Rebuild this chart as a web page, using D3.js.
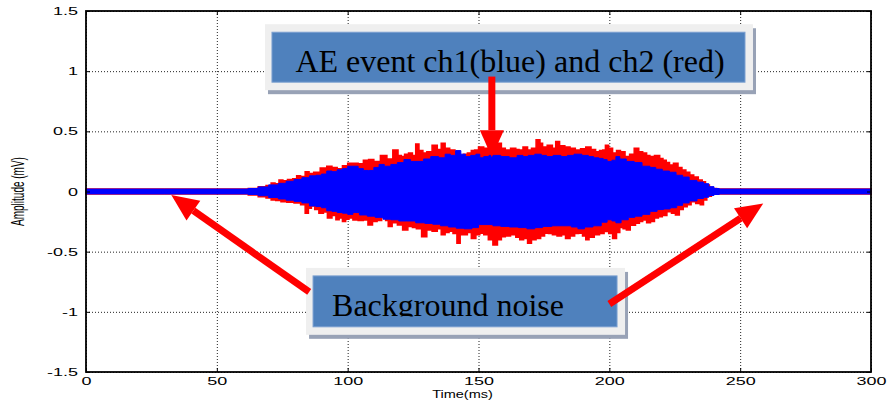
<!DOCTYPE html>
<html>
<head>
<meta charset="utf-8">
<script src="https://cdn.jsdelivr.net/npm/d3@7"></script>
<style>
  html, body { margin: 0; padding: 0; background: #fff; }
  svg { display: block; }
  .grid line { stroke: #222; stroke-dasharray: 1,2; stroke-width: 1; }
  .grid path { display: none; }
  .axis path { display: none; }
  .axis line { stroke: #000; stroke-width: 1; }
  .axis text { font-family: "Liberation Sans", Arial, sans-serif; font-size: 10px; fill: #000; }
  .note text { font-family: "Liberation Serif", "Times New Roman", serif; font-size: 32px; fill: #000; }
</style>
</head>
<body>
<div id="chart"></div>
<script>
// tick labels
var xTicks = [0, 50, 100, 150, 200, 250, 300];
var yTicks = [-1.5, -1, -0.5, 0, 0.5, 1, 1.5];

// envelope of ch2 (red): [time ms, amplitude mV]
var redUpper = [[0,0.02],[60,0.02],[64,0.025],[67.6,0.04],[70,0.05],[71.5,0.07],[73,0.065],[74.5,0.095],[76,0.09],[78,0.1],[80,0.105],[81,0.13],[83,0.125],[84.5,0.165],[86,0.15],[88,0.16],[91,0.195],[93,0.21],[95,0.2],[97,0.19],[99,0.215],[101,0.235],[103,0.235],[105,0.23],[107,0.26],[109,0.265],[111,0.25],[114,0.3],[116,0.27],[118.5,0.345],[120,0.3],[121,0.29],[122.5,0.31],[124,0.32],[125.5,0.3],[126.5,0.394],[128,0.34],[129.5,0.32],[131,0.33],[133.5,0.385],[135,0.35],[136.5,0.4],[138,0.36],[140,0.345],[142,0.33],[143.5,0.3],[145,0.31],[146.5,0.32],[148,0.34],[149,0.345],[151,0.37],[153,0.36],[154.5,0.38],[156,0.4],[158,0.4],[159.5,0.36],[161,0.345],[163.5,0.36],[165,0.35],[166,0.345],[168,0.37],[169.5,0.345],[171,0.36],[173,0.43],[174,0.4],[175,0.37],[177.5,0.385],[179,0.36],[180,0.415],[182,0.38],[184,0.37],[186,0.36],[188,0.345],[190,0.355],[192,0.37],[194,0.35],[195.5,0.33],[197,0.34],[198,0.345],[199,0.385],[200.5,0.36],[202,0.32],[203.5,0.34],[205,0.33],[207,0.29],[208.5,0.31],[210.5,0.36],[212,0.33],[213.5,0.32],[215,0.3],[216,0.29],[218.5,0.3],[220,0.275],[221,0.26],[222.5,0.24],[223.5,0.22],[225.5,0.235],[227,0.2],[228.5,0.178],[230,0.16],[231.5,0.137],[233,0.12],[235,0.095],[236,0.08],[237.5,0.054],[239,0.035],[240,0.025],[242,0.02],[300,0.02]];
var redLower = [[0,-0.02],[60,-0.02],[64,-0.03],[67.6,-0.043],[70,-0.055],[71.5,-0.07],[73.5,-0.075],[75.5,-0.085],[78,-0.09],[81,-0.095],[83,-0.11],[84.5,-0.18],[85.5,-0.14],[86.8,-0.12],[88,-0.15],[90,-0.18],[91.5,-0.17],[93,-0.22],[95,-0.2],[96,-0.235],[97.5,-0.22],[98.5,-0.25],[100,-0.23],[101,-0.22],[103,-0.237],[105,-0.24],[107,-0.237],[108.5,-0.278],[110.5,-0.25],[112,-0.24],[114,-0.21],[115,-0.24],[116,-0.29],[118,-0.26],[120,-0.278],[122,-0.32],[124,-0.29],[125.5,-0.3],[127,-0.31],[129.5,-0.375],[131,-0.32],[133.5,-0.33],[135,-0.31],[136.5,-0.36],[138,-0.34],[139.5,-0.33],[141,-0.35],[142.5,-0.43],[143.5,-0.36],[145,-0.36],[146.5,-0.34],[148,-0.39],[150,-0.36],[151,-0.347],[153,-0.36],[154.5,-0.4],[156.5,-0.444],[158,-0.4],[159.5,-0.375],[161,-0.37],[163.5,-0.36],[165,-0.38],[166.5,-0.4],[168,-0.39],[169.5,-0.43],[171,-0.4],[173,-0.39],[174.5,-0.37],[176,-0.347],[177.5,-0.35],[179,-0.36],[181,-0.37],[182.5,-0.36],[184,-0.39],[186,-0.37],[187.5,-0.35],[189,-0.347],[190.5,-0.37],[191.5,-0.4],[193,-0.38],[195.5,-0.36],[197,-0.35],[199,-0.333],[200.5,-0.35],[202,-0.39],[203.5,-0.34],[204.5,-0.3],[206,-0.31],[207,-0.32],[209,-0.28],[211,-0.264],[212,-0.25],[213.5,-0.237],[215,-0.26],[216.5,-0.25],[218,-0.22],[219.5,-0.21],[221,-0.2],[223,-0.168],[224.5,-0.18],[226,-0.195],[227.5,-0.15],[229,-0.126],[230.5,-0.11],[232,-0.085],[234,-0.1],[235.5,-0.11],[236.5,-0.07],[238,-0.04],[240,-0.02],[300,-0.02]];

// envelope of ch1 (blue)
var blueUpper = [[0,0.02],[60,0.02],[64,0.025],[67.6,0.038],[72,0.055],[75,0.068],[78,0.085],[81,0.1],[84,0.115],[86.8,0.13],[89,0.135],[91,0.145],[93,0.17],[95,0.165],[97,0.18],[99,0.19],[101,0.21],[103,0.21],[105,0.19],[107,0.175],[109,0.175],[111,0.2],[113,0.225],[115,0.21],[118,0.225],[120,0.24],[123,0.265],[125,0.25],[128,0.25],[130,0.27],[133.5,0.29],[136,0.28],[138.5,0.31],[140,0.3],[142.5,0.34],[144,0.31],[146,0.29],[148,0.3],[150,0.31],[151,0.28],[153,0.29],[155,0.3],[157,0.3],[160,0.29],[163.5,0.28],[166,0.3],[168,0.29],[170,0.3],[173,0.31],[175,0.3],[177,0.29],[180,0.3],[183,0.29],[185,0.3],[188,0.31],[191,0.3],[193,0.29],[195,0.28],[197,0.275],[198.3,0.265],[200,0.25],[202,0.26],[203,0.29],[205,0.27],[208,0.25],[211,0.24],[214,0.21],[217,0.2],[218.5,0.185],[222,0.17],[224,0.16],[227,0.135],[229,0.12],[232,0.092],[235,0.078],[237,0.065],[239,0.04],[241,0.025],[243,0.02],[300,0.02]];
var blueLower = [[0,-0.02],[60,-0.02],[64,-0.025],[67.6,-0.035],[72,-0.05],[75,-0.062],[78,-0.072],[81,-0.082],[84,-0.095],[86.8,-0.12],[89,-0.125],[91,-0.135],[93,-0.16],[95,-0.165],[97,-0.175],[99,-0.18],[101,-0.19],[103,-0.175],[106,-0.195],[109,-0.205],[112,-0.215],[115,-0.23],[118,-0.235],[121,-0.245],[124,-0.245],[128,-0.26],[131,-0.265],[134,-0.272],[137,-0.285],[140,-0.295],[143,-0.305],[146,-0.31],[149,-0.3],[151,-0.275],[154,-0.275],[157,-0.285],[160,-0.29],[163.5,-0.295],[167,-0.3],[170,-0.31],[173,-0.3],[176,-0.29],[180,-0.285],[184,-0.285],[187,-0.295],[189,-0.31],[192,-0.295],[195.5,-0.285],[198.3,-0.255],[200,-0.235],[202,-0.245],[203,-0.26],[206,-0.235],[208.5,-0.215],[211,-0.205],[214,-0.19],[217,-0.165],[219.5,-0.15],[222,-0.145],[224.5,-0.135],[227,-0.115],[229,-0.095],[232,-0.078],[235,-0.058],[237,-0.048],[239,-0.033],[241,-0.025],[243,-0.02],[300,-0.02]];

// callout boxes and arrows, in data units [t, v]
var topBox = { x0: 68.4, x1: 254.9, y0: 1.39, y1: 0.842, label: 'AE event ch1(blue) and ch2 (red)' };
var bottomBox = { x0: 84.1, x1: 206.0, y0: -0.635, y1: -1.191, label: 'Background noise' };
var arrows = [
	[[155.1, 0.955], [155.1, 0.285]],
	[[85.3, -0.835], [32.6, -0.03]],
	[[200.0, -0.935], [258.8, -0.1]]
];

var fullWidth = 887;
var fullHeight = 400;
var margin = { top: 11, right: 16, bottom: 28, left: 86 };
var width = fullWidth - margin.left - margin.right;
var height = fullHeight - margin.top - margin.bottom;

var svg = d3.select('#chart')
	.append('svg')
	.attr('width', fullWidth)
	.attr('height', fullHeight);

var x = d3.scaleLinear().domain([0, 300]).range([0, width]);
var y = d3.scaleLinear().domain([-1.5, 1.5]).range([height, 0]);

var chartArea = svg.append('g')
	.attr('transform', 'translate(' + margin.left + ',' + margin.top + ')');

// dotted grid
chartArea.append('g')
	.attr('class', 'grid')
	.attr('transform', 'translate(0,' + height + ')')
	.call(d3.axisBottom(x).tickValues(xTicks).tickSize(-height).tickFormat(''));
chartArea.append('g')
	.attr('class', 'grid')
	.call(d3.axisLeft(y).tickValues(yTicks).tickSize(-width).tickFormat(''));

// signal envelopes
var envLine = d3.line()
	.x(function(d) { return x(d[0]); })
	.y(function(d) { return y(d[1]); })
	.curve(d3.curveStep);

function band(upper, lower) {
	return envLine(upper.concat(lower.slice().reverse())) + 'Z';
}

chartArea.append('path')
	.attr('d', band(redUpper, redLower))
	.attr('fill', '#ff0000')
	.attr('stroke', '#ff0000')
	.attr('stroke-width', 1.5);

chartArea.append('path')
	.attr('d', band(blueUpper, blueLower))
	.attr('fill', '#0000ff')
	.attr('stroke', '#0000ff')
	.attr('stroke-width', 1);

// axes with inward ticks
var fmt = function(d) { return String(d); };

var xAxis = chartArea.append('g')
	.attr('class', 'axis')
	.attr('transform', 'translate(0,' + height + ')')
	.call(d3.axisBottom(x).tickValues(xTicks).tickSize(-4).tickFormat(fmt));
xAxis.selectAll('text')
	.attr('y', 0)
	.attr('dy', 0)
	.attr('transform', 'translate(0,12.5) scale(1.8,1)');

var yAxis = chartArea.append('g')
	.attr('class', 'axis')
	.call(d3.axisLeft(y).tickValues(yTicks).tickSize(-4).tickFormat(fmt));
yAxis.selectAll('text')
	.attr('x', 0)
	.attr('dy', '0.36em')
	.attr('transform', 'translate(-8,0) scale(1.8,1)');

chartArea.append('g')
	.attr('class', 'axis')
	.call(d3.axisTop(x).tickValues(xTicks).tickSize(-4).tickFormat(''));
chartArea.append('g')
	.attr('class', 'axis')
	.attr('transform', 'translate(' + width + ',0)')
	.call(d3.axisRight(y).tickValues(yTicks).tickSize(-4).tickFormat(''));

chartArea.append('rect')
	.attr('width', width)
	.attr('height', height)
	.attr('fill', 'none')
	.attr('stroke', '#000')
	.attr('stroke-width', 1.8);

// axis titles
svg.append('text')
	.attr('transform', 'translate(23.5,' + (margin.top + y(0)) + ') scale(1.8,1) rotate(-90)')
	.attr('text-anchor', 'middle')
	.style('font-family', '"Liberation Sans", Arial, sans-serif')
	.style('font-size', '10px')
	.text('Amplitude (mV)');

svg.append('text')
	.attr('transform', 'translate(' + (margin.left + x(150) - 16) + ',398) scale(1.45,1)')
	.attr('text-anchor', 'middle')
	.style('font-family', '"Liberation Sans", Arial, sans-serif')
	.style('font-size', '10px')
	.text('Time(ms)');

// callouts
function callout(b) {
	var g = chartArea.append('g').attr('class', 'note');
	var bx = x(b.x0), by = y(b.y0), bw = x(b.x1) - x(b.x0), bh = y(b.y1) - y(b.y0);
	g.append('rect')
		.attr('x', bx + 3).attr('y', by + 4)
		.attr('width', bw).attr('height', bh)
		.attr('fill', '#98a2b6');
	g.append('rect')
		.attr('x', bx).attr('y', by)
		.attr('width', bw).attr('height', bh)
		.attr('fill', '#efefef');
	g.append('rect')
		.attr('x', bx + 7).attr('y', by + 8)
		.attr('width', bw - 15).attr('height', bh - 16)
		.attr('fill', '#4f81bd')
		.attr('stroke', '#7a9fd0')
		.attr('stroke-width', 1);
	return g;
}

var gTop = callout(topBox);
gTop.append('text')
	.attr('x', (x(topBox.x0) + x(topBox.x1)) / 2 + 1)
	.attr('y', y(1.0) + 0.5)
	.attr('text-anchor', 'middle')
	.text(topBox.label);

var gBot = callout(bottomBox);
svg.append('clipPath')
	.attr('id', 'noiseClip')
	.append('rect')
	.attr('x', 0).attr('y', 0)
	.attr('width', width).attr('height', y(-1.038));
gBot.append('text')
	.attr('x', x(bottomBox.x0) + 26)
	.attr('y', y(-1.033))
	.attr('clip-path', 'url(#noiseClip)')
	.text(bottomBox.label);

// red arrows
arrows.forEach(function(a) {
	var x1 = x(a[0][0]), y1 = y(a[0][1]), x2 = x(a[1][0]), y2 = y(a[1][1]);
	var ang = Math.atan2(y2 - y1, x2 - x1);
	var headLen = 27, headHalf = 12;
	var bx = x2 - headLen * Math.cos(ang), by = y2 - headLen * Math.sin(ang);
	chartArea.append('line')
		.attr('x1', x1).attr('y1', y1)
		.attr('x2', bx).attr('y2', by)
		.attr('stroke', '#ff0000')
		.attr('stroke-width', 7);
	var px = -Math.sin(ang) * headHalf, py = Math.cos(ang) * headHalf;
	chartArea.append('path')
		.attr('d', 'M' + x2 + ',' + y2 + 'L' + (bx + px) + ',' + (by + py) + 'L' + (bx - px) + ',' + (by - py) + 'Z')
		.attr('fill', '#ff0000');
});
</script>
</body>
</html>
